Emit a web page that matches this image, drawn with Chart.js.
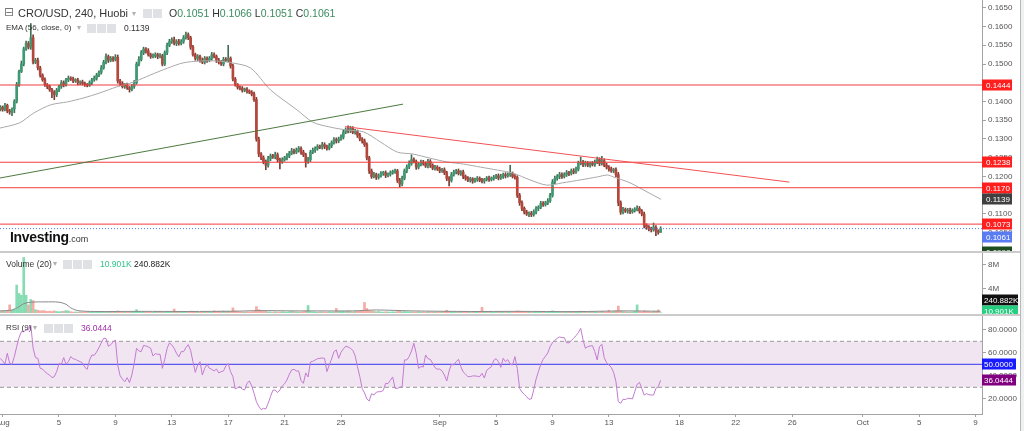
<!DOCTYPE html>
<html>
<head>
<meta charset="utf-8">
<script src="https://cdn.jsdelivr.net/npm/chart.js@4.4.1/dist/chart.umd.min.js"></script>
<style>
  body { margin: 0; width: 1024px; height: 431px; overflow: hidden; background: #fff; position: relative; font-family: "Liberation Sans", Arial, sans-serif; }
  canvas { position: absolute; left: 0; }
  .sep { position: absolute; left: 0; width: 1020px; height: 2px; background: #cbcbcb; }
  .edge { position: absolute; left: 1020px; top: 0; width: 4px; height: 431px; background: #eef0f2; border-left: 1px solid #b8b8b8; }
  .lg { position: absolute; white-space: nowrap; color: #333; line-height: 1; }
  .dd { color: #b0b0b0; font-size: 8px; }
  .ic { display: inline-block; width: 9px; height: 9px; background: #dfe1e5; margin-right: 1px; vertical-align: top; }
  .g { color: #3b8b5e; }
  .logo { position: absolute; left: 10px; top: 229px; font-size: 14px; font-weight: bold; color: #111; letter-spacing: -0.3px; }
  .logo span { font-size: 9px; font-weight: normal; color: #333; letter-spacing: 0; }
</style>
</head>
<body>
<canvas id="priceChart" width="1020" height="251" style="top:0"></canvas>
<div class="sep" style="top:251px"></div>
<canvas id="volumeChart" width="1020" height="61" style="top:253px"></canvas>
<div class="sep" style="top:314px"></div>
<canvas id="rsiChart" width="1020" height="115" style="top:316px"></canvas>
<div class="edge"></div>

<div class="lg" style="left:4px;top:6px;font-size:12px;color:#777;font-family:'DejaVu Sans'">⊟</div>
<div class="lg" style="left:18px;top:8px;font-size:11px">CRO/USD, 240, Huobi</div>
<div class="lg dd" style="left:132px;top:10px">▾</div>
<div class="lg" style="left:143px;top:9px"><i class="ic"></i><i class="ic"></i></div>
<div class="lg" style="left:169px;top:8px;font-size:10.5px">O<span class="g">0.1051</span> H<span class="g">0.1066</span> L<span class="g">0.1051</span> C<span class="g">0.1061</span></div>

<div class="lg" style="left:6px;top:24px;font-size:8px">EMA (56, close, 0)</div>
<div class="lg dd" style="left:77px;top:24px">▾</div>
<div class="lg" style="left:87px;top:24px"><i class="ic"></i><i class="ic"></i><i class="ic"></i></div>
<div class="lg" style="left:124px;top:24px;font-size:8.5px">0.1139</div>

<div class="logo">Investing<span>.com</span></div>

<div class="lg" style="left:6px;top:260px;font-size:8.5px">Volume (20)</div>
<div class="lg dd" style="left:53px;top:260px">▾</div>
<div class="lg" style="left:63px;top:260px"><i class="ic"></i><i class="ic"></i><i class="ic"></i></div>
<div class="lg" style="left:100px;top:260px;font-size:8.5px;color:#2fc488">10.901K</div>
<div class="lg" style="left:134px;top:260px;font-size:8.5px;color:#222">240.882K</div>

<div class="lg" style="left:6px;top:324px;font-size:8px">RSI (9)</div>
<div class="lg dd" style="left:33px;top:324px">▾</div>
<div class="lg" style="left:44px;top:324px"><i class="ic"></i><i class="ic"></i><i class="ic"></i></div>
<div class="lg" style="left:81px;top:324px;font-size:8.5px;color:#9a2fa6">36.0444</div>

<script>
// 240-minute candles, x in days from Aug 1 00:00
const firstDay = -1 / 6;
const candleStep = 1 / 6;
const firstOpen = 0.1380;

const closes = [
  0.1385, 0.1378, 0.1390, 0.1375, 0.1372, 0.1380,
  0.1400, 0.1445, 0.1480, 0.1500, 0.1540, 0.1555,
  0.1545, 0.1570, 0.1505, 0.1510, 0.1490, 0.1470,
  0.1458, 0.1445, 0.1440, 0.1432, 0.1425, 0.1418,
  0.1430, 0.1440, 0.1450, 0.1445, 0.1458, 0.1462,
  0.1460, 0.1455, 0.1458, 0.1450, 0.1452, 0.1448,
  0.1445, 0.1443, 0.1450, 0.1458, 0.1462, 0.1470,
  0.1478, 0.1490, 0.1505, 0.1520, 0.1510, 0.1515,
  0.1512, 0.1518, 0.1455, 0.1448, 0.1440, 0.1445,
  0.1437, 0.1432, 0.1440, 0.1450, 0.1500, 0.1512,
  0.1530, 0.1540, 0.1535, 0.1525, 0.1520, 0.1522,
  0.1525, 0.1520, 0.1522, 0.1500, 0.1530, 0.1550,
  0.1560, 0.1565, 0.1555, 0.1560, 0.1555, 0.1560,
  0.1570, 0.1578, 0.1570, 0.1545, 0.1525, 0.1515,
  0.1520, 0.1510, 0.1505, 0.1515, 0.1510, 0.1515,
  0.1525, 0.1520, 0.1510, 0.1505, 0.1500, 0.1512,
  0.1510, 0.1515, 0.1495, 0.1460, 0.1445, 0.1438,
  0.1435, 0.1430, 0.1433, 0.1428, 0.1425, 0.1420,
  0.1405, 0.1300, 0.1260, 0.1250, 0.1240, 0.1230,
  0.1248, 0.1255, 0.1252, 0.1258, 0.1245, 0.1240,
  0.1245, 0.1250, 0.1255, 0.1262, 0.1268, 0.1265,
  0.1270, 0.1275, 0.1265, 0.1258, 0.1240, 0.1245,
  0.1265, 0.1270, 0.1275, 0.1280, 0.1278, 0.1285,
  0.1280, 0.1275, 0.1282, 0.1290, 0.1298, 0.1295,
  0.1300, 0.1305, 0.1318, 0.1325, 0.1322, 0.1328,
  0.1318, 0.1320, 0.1310, 0.1300, 0.1295, 0.1285,
  0.1250, 0.1215, 0.1200, 0.1205, 0.1198, 0.1202,
  0.1208, 0.1210, 0.1203, 0.1206, 0.1210, 0.1213,
  0.1215, 0.1190, 0.1180, 0.1195, 0.1215, 0.1225,
  0.1235, 0.1245, 0.1240, 0.1225, 0.1232, 0.1238,
  0.1235, 0.1228, 0.1240, 0.1230, 0.1222, 0.1225,
  0.1220, 0.1215, 0.1218, 0.1210, 0.1195, 0.1190,
  0.1205, 0.1212, 0.1215, 0.1208, 0.1212, 0.1200,
  0.1195, 0.1190, 0.1194, 0.1188, 0.1192, 0.1195,
  0.1190, 0.1188, 0.1192, 0.1196, 0.1192, 0.1195,
  0.1198, 0.1202, 0.1196, 0.1200, 0.1205, 0.1202,
  0.1205, 0.1208, 0.1200, 0.1198, 0.1150, 0.1130,
  0.1115, 0.1105, 0.1100, 0.1102, 0.1098, 0.1105,
  0.1115, 0.1118, 0.1128, 0.1125, 0.1130, 0.1135,
  0.1150, 0.1185, 0.1195, 0.1200, 0.1205, 0.1200,
  0.1205, 0.1210, 0.1208, 0.1215, 0.1212, 0.1220,
  0.1235, 0.1238, 0.1232, 0.1235, 0.1230, 0.1235,
  0.1232, 0.1238, 0.1245, 0.1235, 0.1242, 0.1230,
  0.1225, 0.1220, 0.1215, 0.1218, 0.1205, 0.1130,
  0.1105, 0.1112, 0.1108, 0.1110, 0.1106, 0.1110,
  0.1112, 0.1115, 0.1108, 0.1100, 0.1070, 0.1065,
  0.1060, 0.1058, 0.1065, 0.1055, 0.1051, 0.1061
];

// wick lengths beyond the body, in units of 0.0001
const upperWick = [
  4,3,5,3,4,3, 5,6,4,8,5,6, 5,38,8,5,6,4, 4,5,3,4,3,4, 5,4,6,5,4,6, 4,5,3,4,3,5,
  4,3,5,4,6,5, 4,6,5,7,4,5, 5,7,6,4,5,3, 4,3,5,6,5,8, 6,5,4,6,4,5, 5,4,6,4,5,6,
  6,5,7,5,6,5, 6,7,5,4,5,4, 5,4,6,5,4,5, 6,5,4,5,4,6, 5,35,4,5,4,3, 4,5,3,4,3,4,
  5,6,5,4,5,4, 6,5,4,7,5,4, 5,4,6,5,7,5, 6,5,4,5,4,6, 5,6,4,5,4,6, 5,4,6,5,6,5,
  5,6,7,5,10,6, 5,6,4,5,4,5, 5,4,5,6,4,5, 5,4,5,4,5,4, 5,4,5,6,5,6, 7,13,5,4,5,6,
  5,4,6,5,4,5, 4,5,4,5,4,5, 6,5,4,5,4,5, 4,5,4,3,4,5, 4,5,3,4,5,4, 5,4,5,6,4,5,
  5,22,4,5,4,5, 5,4,5,4,5,6, 5,4,6,5,4,6, 5,7,6,5,6,5, 5,6,4,5,6,5, 6,14,5,6,5,4,
  5,6,7,5,12,5, 5,4,5,4,5,6, 5,6,4,5,6,4, 5,7,5,4,5,4, 4,5,11,4,3,5
];
const lowerWick = [
  5,4,3,5,6,10, 10,4,5,3,5,4, 5,6,5,4,6,5, 4,5,6,5,15,13, 5,4,5,6,4,5, 4,5,4,6,5,4,
  5,4,3,5,4,5, 4,5,4,5,6,4, 5,4,6,5,4,5, 5,7,4,5,4,5, 4,5,6,4,5,4, 5,6,4,5,4,5,
  4,5,4,6,5,4, 5,4,5,6,4,5, 6,5,4,5,6,4, 5,4,6,5,4,5, 4,5,6,5,4,5, 4,5,4,6,4,5,
  5,6,7,5,6,12, 5,6,4,5,6,20, 5,4,6,5,4,5, 4,5,6,5,15,5, 5,4,6,5,4,5, 6,5,4,5,4,6,
  5,4,5,4,6,5, 4,5,6,5,6,5, 6,7,5,4,6,5, 4,5,6,4,5,4, 5,6,8,5,4,5, 4,5,4,6,5,4,
  5,4,5,6,4,5, 4,5,4,5,6,15, 5,4,5,4,5,6, 5,4,5,6,4,5, 4,5,6,4,5,4, 5,4,5,4,5,6,
  4,5,4,5,6,7, 6,5,4,7,5,4, 5,6,4,5,4,5, 4,5,4,5,6,5, 4,5,6,4,5,4, 5,4,6,5,4,5,
  4,5,4,6,5,4, 5,6,4,5,6,8, 6,5,4,6,5,4, 5,4,6,5,7,6, 5,6,4,13,5,0
];

// volume per candle, millions
const volumes = [
  0.25,0.3,0.2,0.35,1.3,0.4, 0.6,4.6,3.2,2.9,9.2,2.9, 1.3,2.2,2.0,0.5,0.4,0.3,
  0.35,0.3,0.2,0.25,0.2,0.3, 0.2,0.15,0.2,0.25,0.35,0.3, 0.15,0.1,0.12,0.1,0.15,0.12,
  0.1,0.1,0.12,0.15,0.15,0.2, 0.18,0.15,0.2,0.15,0.12,0.1, 0.15,0.15,0.3,0.15,0.12,0.1,
  0.12,0.15,0.1,0.2,0.5,0.2, 0.15,0.18,0.12,0.1,0.12,0.15, 0.2,0.15,0.12,0.18,0.15,0.15,
  0.12,0.1,0.6,0.15,0.15,0.12, 0.15,0.2,0.15,0.25,0.2,0.15, 0.12,0.1,0.12,0.15,0.1,0.12,
  0.15,0.3,0.2,0.25,0.2,0.3, 0.2,0.25,0.2,0.8,0.3,0.2, 0.15,0.12,0.1,0.15,0.12,0.15,
  0.2,1.0,0.5,0.3,0.2,0.25, 0.15,0.12,0.1,0.15,0.12,0.1, 0.15,0.12,0.1,0.15,0.2,0.15,
  0.12,0.1,0.12,0.15,0.3,1.2, 0.2,0.15,0.12,0.1,0.12,0.15, 0.12,0.1,0.15,0.12,0.15,0.7,
  0.2,0.2,0.25,0.2,0.3,0.2, 0.15,0.2,0.25,0.3,0.4,1.7, 0.7,0.4,0.3,0.2,0.15,0.2,
  0.12,0.1,0.15,0.12,0.1,0.15, 0.12,0.2,0.3,0.15,0.2,0.15, 0.12,0.15,0.1,0.12,0.15,0.1,
  0.12,0.1,0.15,0.12,0.1,0.12, 0.1,0.12,0.15,0.2,0.4,0.2, 0.15,0.1,0.12,0.1,0.15,0.12,
  0.1,0.12,0.1,0.15,0.12,0.1, 0.15,0.9,0.2,0.15,0.12,0.1, 0.12,0.1,0.15,0.12,0.1,0.12,
  0.1,0.15,0.12,0.15,0.3,0.25, 0.2,0.15,0.12,0.1,0.15,0.12, 0.1,0.15,0.12,0.1,0.12,0.15,
  0.2,0.3,0.15,0.12,0.1,0.12, 0.1,0.12,0.15,0.1,0.12,0.15, 0.2,0.25,0.15,0.12,0.1,0.12,
  0.15,0.12,0.1,0.15,0.2,0.15, 0.12,0.4,0.15,0.2,0.3,1.1, 0.3,0.2,0.15,0.12,0.1,0.15,
  0.2,1.3,0.2,0.15,0.3,0.2, 0.15,0.12,0.2,0.15,0.45,0.010901
];

const rsiValues = [
  55.2,52.9,50.3,59.6,50.9,50.0, 56.7,65.4,73.2,78.4,78.4,79.9, 79.9,84.2,63.9,55.8,55.2,46.5,
  45.9,43.6,41.9,40.7,38.4,39.3, 43.6,50.6,50.0,55.8,50.0,52.3, 56.7,54.9,54.3,53.2,52.3,51.2,
  47.4,45.7,53.8,58.1,57.8,60.7, 64.5,68.6,72.6,72.6,65.7,67.1, 69.1,71.2,49.4,40.1,37.2,34.9,
  38.4,34.1,40.7,50.9,63.9,61.6, 61.0,66.5,65.9,65.1,63.9,57.2, 59.3,58.7,58.7,46.5,54.3,63.9,
  68.6,66.8,63.9,59.6,56.4,61.0, 61.0,64.5,67.1,62.2,52.3,43.0, 49.4,52.3,40.7,46.5,50.0,46.5,
  45.7,44.2,45.9,42.5,43.6,44.2, 48.8,50.6,43.6,39.3,28.6,29.7, 30.6,28.3,27.7,33.5,35.5,31.4,
  24.8,17.5,13.5,10.6,11.7,11.2, 16.1,21.9,27.4,27.7,25.4,27.7, 31.2,33.2,36.4,41.3,45.1,45.7,
  44.2,44.2,35.8,33.5,42.5,39.0, 52.0,52.6,53.8,54.9,55.2,55.5, 55.2,43.6,49.4,54.6,61.0,62.5,
  55.2,60.4,63.3,65.7,65.1,63.9, 62.2,57.5,48.0,39.3,29.1,25.1, 19.9,18.1,24.5,23.3,25.7,26.2,
  26.2,27.4,33.5,33.2,36.1,39.0, 29.1,29.1,30.0,30.6,53.8,53.8, 56.7,61.6,68.3,59.6,46.5,48.0,
  47.7,58.1,54.9,54.3,50.9,47.1, 45.7,45.9,44.2,40.7,35.5,44.2, 50.0,49.4,52.3,54.3,48.0,43.3,
  41.3,39.3,39.3,39.9,39.9,39.6, 39.3,42.2,38.1,44.8,46.5,48.0, 53.5,54.9,52.3,47.4,55.2,52.3,
  54.1,50.0,49.4,56.7,46.5,29.1, 25.9,23.9,21.9,19.6,19.9,27.7, 37.0,43.6,50.0,54.3,57.0,59.9,
  65.4,68.8,70.9,72.6,73.8,73.2, 73.2,68.8,68.6,70.6,72.6,74.9, 77.5,81.3,71.2,63.9,65.4,65.9,
  66.2,61.0,53.8,65.4,67.4,55.8, 51.4,49.4,47.4,43.0,34.9,17.5, 16.1,19.6,19.3,20.4,20.4,19.9,
  26.2,32.6,34.3,29.1,23.3,24.5, 23.6,23.3,23.3,29.1,30.6,36.0444
];

// EMA(56): day position and value
const emaDays = [-0.2, 1.2, 2.2, 3.4, 4.6, 5.7, 6.9, 8.1, 9.3, 10.5, 11.7, 12.8, 14.0, 15.2, 16.3, 17.6,
  19.0, 20.9, 22.0, 23.2, 24.4, 25.6, 26.8, 28.0, 29.1, 30.3, 31.5, 32.7, 33.9, 35.1, 36.2, 37.4,
  38.6, 39.7, 41.0, 42.2, 42.9, 43.3, 44.5, 45.7, 46.7];
const emaValues = [0.1329, 0.1343, 0.1369, 0.1391, 0.1399, 0.1409, 0.1423, 0.1439, 0.1452, 0.1471, 0.1489, 0.1503,
  0.1508, 0.1508, 0.1503, 0.1489, 0.1431, 0.1377, 0.1345, 0.1332, 0.1324, 0.1319, 0.1292, 0.1265,
  0.1260, 0.1249, 0.1239, 0.1233, 0.1225, 0.1217, 0.1209, 0.1191, 0.1177, 0.1183, 0.1191, 0.1199,
  0.1204, 0.1199, 0.1183, 0.1159, 0.1139];

// volume MA(20): candle index and value (millions)
const volMaCandles = [0, 5, 8, 10, 13, 19, 25, 28, 30, 33, 40, 60, 80, 100, 110, 125, 135, 150, 160, 175, 200, 220, 245, 265, 281];
const volMaValues = [0.3, 0.45, 1.0, 1.5, 1.75, 1.8, 1.75, 1.4, 0.8, 0.35, 0.2, 0.22, 0.2, 0.25, 0.35, 0.3, 0.3, 0.3, 0.45, 0.3, 0.2, 0.22, 0.18, 0.3, 0.240882];

const levels = [0.1444, 0.1238, 0.1170, 0.1073];
const lastPrice = 0.1061;
const lastEma = 0.1139;
const lowTag = 0.0998;
const greenTrend = [[-0.18, 0.1196], [28.4, 0.1393]];
const redTrend = [[24.3, 0.1333], [55.8, 0.1185]];

const dayTicks = [0, 4, 8, 12, 16, 20, 24, 31, 35, 39, 43, 48, 52, 56, 61, 65, 69];
const dayLabels = ["Aug", "5", "9", "13", "17", "21", "25", "Sep", "5", "9", "13", "18", "22", "26", "Oct", "5", "9"];
const priceTicks = [0.105, 0.110, 0.115, 0.120, 0.125, 0.130, 0.135, 0.140, 0.145, 0.150, 0.155, 0.160, 0.165];
const volumeTicks = [4, 8];
const rsiTicks = [20, 40, 60, 80];
const rsiBand = [30, 70];
const rsiMid = 50;

// view ranges
const X_MIN = -0.184, X_MAX = 69.46;
const AXIS_W = 38;
const tickFont = { family: "Liberation Sans", size: 8 };
const axisGray = "#a3a3a3";

const candles = closes.map((c, i) => {
  const o = i ? closes[i - 1] : firstOpen;
  return {
    x: firstDay + i * candleStep, o, c,
    h: Math.max(o, c) + upperWick[i] / 1e4,
    l: Math.min(o, c) - lowerWick[i] / 1e4
  };
});
const isUp = candles.map((k) => k.c >= k.o);

const tagPlugin = {
  id: "tags",
  afterDraw(chart, args, opts) {
    const { ctx, chartArea } = chart;
    const scale = chart.scales.y;
    ctx.save();
    ctx.font = '8px "Liberation Sans"';
    ctx.textBaseline = "middle";
    (opts.items || []).forEach((t) => {
      const y = Math.round(scale.getPixelForValue(t.value) + (t.dy || 0));
      ctx.fillStyle = t.bg;
      ctx.fillRect(chartArea.right, y - 5.5, t.w || 30, 11);
      ctx.fillStyle = "#fff";
      ctx.fillText(t.text, chartArea.right + (t.w ? 2 : 4), y + 0.5);
    });
    ctx.restore();
  }
};

const bandPlugin = {
  id: "band",
  beforeDatasetsDraw(chart, args, opts) {
    if (!opts.range) return;
    const { ctx, chartArea } = chart;
    const y = chart.scales.y;
    const top = y.getPixelForValue(opts.range[1]), bottom = y.getPixelForValue(opts.range[0]);
    ctx.save();
    ctx.fillStyle = opts.color;
    ctx.fillRect(chartArea.left, top, chartArea.right - chartArea.left, bottom - top);
    ctx.restore();
  }
};

function xScale(show) {
  return {
    type: "linear", min: X_MIN, max: X_MAX, offset: false, display: show,
    grid: { offset: false, drawOnChartArea: false, tickLength: 3, color: axisGray },
    border: { display: show, color: axisGray },
    afterBuildTicks: (s) => { s.ticks = dayTicks.map((value) => ({ value })); },
    afterFit: (s) => { s.paddingLeft = 0; s.paddingRight = 0; if (show) s.height = 17; },
    ticks: { autoSkip: false, maxRotation: 0, padding: 1, font: tickFont, color: "#555", callback: (v, i) => dayLabels[i] }
  };
}

function yScale(min, max, ticks, format) {
  return {
    position: "right", min, max, beginAtZero: false,
    grid: { drawOnChartArea: false, tickLength: 4, color: axisGray },
    border: { color: axisGray },
    afterBuildTicks: (s) => { s.ticks = ticks.map((value) => ({ value })); },
    afterFit: (s) => { s.width = AXIS_W; s.paddingTop = 0; s.paddingBottom = 0; },
    ticks: { padding: 2, font: tickFont, color: "#555", callback: format }
  };
}

function hLine(value, color, order, dash) {
  return {
    type: "line", data: [{ x: X_MIN, y: value }, { x: X_MAX, y: value }],
    borderColor: color, borderWidth: 1, borderDash: dash || [], pointRadius: 0, order
  };
}

function segment(points, color) {
  return {
    type: "line", data: points.map(([x, y]) => ({ x, y })),
    borderColor: color, borderWidth: 1, pointRadius: 0, order: 1
  };
}

const baseOptions = {
  responsive: false, animation: false, events: [],
  layout: { padding: 0 },
  plugins: { legend: { display: false }, tooltip: { enabled: false } }
};

new Chart(document.getElementById("priceChart"), {
  type: "bar",
  data: {
    datasets: [
      {
        type: "bar", data: candles.map((k) => ({ x: k.x, y: [k.l, k.h] })),
        backgroundColor: isUp.map((u) => (u ? "#3f6f55" : "#7a3a32")),
        barThickness: 1, grouped: false, order: 6
      },
      {
        type: "bar", data: candles.map((k) => ({ x: k.x, y: [k.o, k.c] })),
        backgroundColor: isUp.map((u) => (u ? "#3f9a74" : "#b4463b")),
        barThickness: 2, minBarLength: 1, grouped: false, order: 5
      },
      {
        type: "line", data: emaDays.map((d, i) => ({ x: d, y: emaValues[i] })),
        borderColor: "#a9a9a9", borderWidth: 1, pointRadius: 0, tension: 0.3, order: 4
      },
      ...levels.map((v) => hLine(v, "#f23c3c", 2)),
      hLine(lastPrice, "#5b78f0", 2, [1, 2]),
      segment(greenTrend, "#4d7a3f"),
      segment(redTrend, "#f25252")
    ]
  },
  options: {
    ...baseOptions,
    scales: {
      x: xScale(false),
      y: yScale(0.10013, 0.16707, priceTicks, (v) => v.toFixed(4))
    },
    plugins: {
      ...baseOptions.plugins,
      tags: {
        items: [
          ...levels.map((v) => ({ value: v, text: v.toFixed(4), bg: "#ff1f1f" })),
          { value: lastEma, text: lastEma.toFixed(4), bg: "#404040" },
          { value: lastPrice, text: lastPrice.toFixed(4), bg: "#5a7cf2", dy: 8 },
          { value: lowTag, text: lowTag.toFixed(4), bg: "#1f4d22" }
        ]
      }
    }
  },
  plugins: [tagPlugin]
});

new Chart(document.getElementById("volumeChart"), {
  type: "bar",
  data: {
    datasets: [
      {
        type: "bar", data: candles.map((k, i) => ({ x: k.x, y: volumes[i] })),
        backgroundColor: isUp.map((u) => (u ? "#86dcb3" : "#f5aaa2")),
        barThickness: 2, grouped: false, order: 2
      },
      {
        type: "line", data: volMaCandles.map((c, i) => ({ x: firstDay + c * candleStep, y: volMaValues[i] })),
        borderColor: "#8a8a8a", borderWidth: 1, pointRadius: 0, tension: 0.3, order: 1
      }
    ]
  },
  options: {
    ...baseOptions,
    scales: {
      x: xScale(false),
      y: yScale(-0.22, 9.95, volumeTicks, (v) => v + "M")
    },
    plugins: {
      ...baseOptions.plugins,
      tags: {
        items: [
          { value: volMaValues[volMaValues.length - 1], text: "240.882K", bg: "#111", dy: -11, w: 36 },
          { value: volumes[volumes.length - 1], text: "10.901K", bg: "#26cf7f", dy: -2, w: 36 }
        ]
      }
    }
  },
  plugins: [tagPlugin]
});

new Chart(document.getElementById("rsiChart"), {
  type: "line",
  data: {
    datasets: [
      hLine(rsiBand[1], "#9a9a9a", 3, [4, 3]),
      hLine(rsiBand[0], "#9a9a9a", 3, [4, 3]),
      hLine(rsiMid, "#3333ee", 2),
      {
        data: candles.map((k, i) => ({ x: k.x, y: rsiValues[i] })),
        borderColor: "#c27bd0", borderWidth: 1, pointRadius: 0, order: 1
      }
    ]
  },
  options: {
    ...baseOptions,
    scales: {
      x: xScale(true),
      y: yScale(6.8, 92.0, rsiTicks, (v) => v.toFixed(4))
    },
    plugins: {
      ...baseOptions.plugins,
      band: { range: rsiBand, color: "rgba(128, 0, 128, 0.1)" },
      tags: {
        items: [
          { value: rsiMid, text: rsiMid.toFixed(4), bg: "#1a1aff", w: 34 },
          { value: rsiValues[rsiValues.length - 1], text: rsiValues[rsiValues.length - 1].toFixed(4), bg: "#800080", w: 34 }
        ]
      }
    }
  },
  plugins: [bandPlugin, tagPlugin]
});
</script>
</body>
</html>
